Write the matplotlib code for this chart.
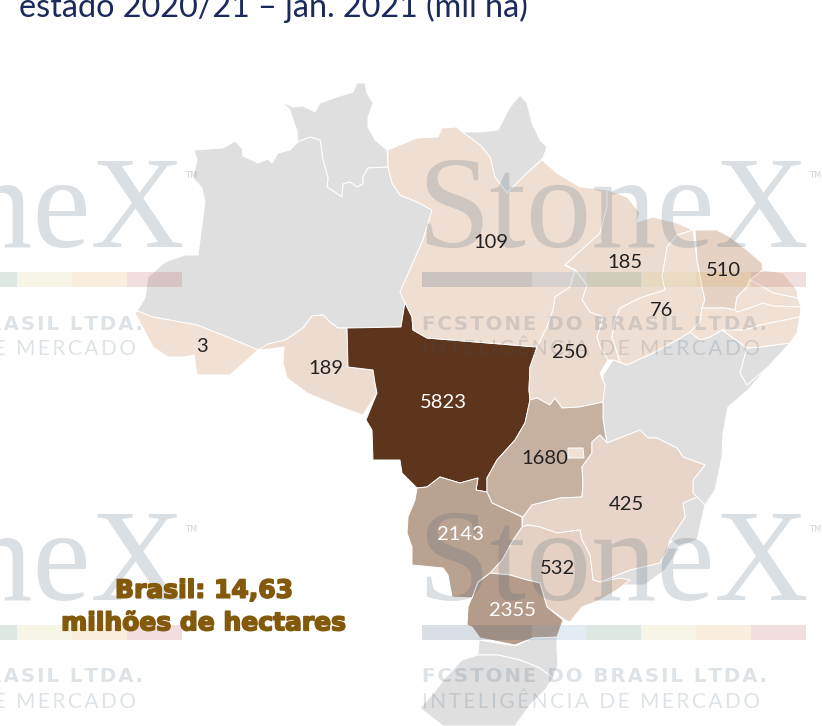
import matplotlib
matplotlib.use('Agg')
import matplotlib.pyplot as plt
import matplotlib.patheffects as pe
from matplotlib.colors import LinearSegmentedColormap, Normalize
import numpy as np

# area per state, nan = grey (no data on the map), 0 = small area with no label
states = ['RR', 'AM', 'AP', 'BA', 'SE', 'ES', 'RJ', 'SC', 'RS', 'AC', 'RO', 'MT', 'PA', 'MA', 'TO', 'PI',
          'CE', 'RN', 'PB', 'PE', 'AL', 'GO', 'DF', 'MG', 'SP', 'PR', 'MS']
values = [np.nan, np.nan, np.nan, np.nan, np.nan, np.nan, np.nan, np.nan, np.nan, 3, 189, 5823, 109, 185, 250, 76,
          510, 0, 0, 0, 0, 1680, 0, 425, 532, 2355, 2143]

# outlines (pixels)
outlines = {
    'RR': [(282,102),(293,107),(303,106),(315,112),(320,103),(337,97),(353,92),(357,83),(365,83),(367,93),(373,103),(368,117),(368,127),(375,140),(387,150),(388,167),(368,168),(363,177),(363,184),(357,187),(350,182),(343,184),(342,197),(327,187),(328,178),(323,160),(320,140),(310,137),(298,142),(297,131),(293,120),(290,110)],
    'AM': [(194,150),(222,148),(225,147),(235,141),(242,148),(243,156),(258,163),(268,159),(272,163),(278,153),(290,150),(298,142),(310,137),(320,140),(323,160),(328,178),(327,187),(342,197),(343,184),(350,182),(357,187),(363,184),(363,177),(368,168),(388,167),(392,183),(400,195),(417,202),(432,210),(423,240),(400,292),(405,302),(401,327),(347,328),(338,328),(330,322),(323,315),(312,316),(303,328),(290,337),(285,340),(275,345),(258,350),(230,338),(197,325),(153,317),(137,311),(145,298),(148,277),(165,262),(185,255),(198,255),(205,202),(202,188),(193,178),(197,160)],
    'AP': [(462,132),(480,132),(498,130),(510,107),(520,95),(527,103),(532,123),(540,140),(547,147),(543,158),(527,173),(507,193),(495,177),(490,157),(480,145)],
    'BA': [(603,375),(613,360),(627,365),(653,353),(677,340),(690,332),(700,340),(710,337),(722,330),(747,348),(740,373),(747,385),(768,367),(748,390),(728,407),(723,433),(722,457),(715,490),(705,505),(697,497),(693,493),(693,480),(705,465),(683,457),(677,448),(657,438),(648,438),(640,430),(607,443),(605,432),(603,418),(603,402)],
    'SE': [(747,348),(740,373),(747,385),(768,367),(790,343),(775,345),(760,347)],
    'ES': [(697,497),(705,505),(697,540),(680,547),(670,540),(685,517),(683,503)],
    'RJ': [(600,582),(630,570),(660,563),(668,548),(680,548),(665,570),(645,585),(625,585),(615,590)],
    'SC': [(479,640),(515,646),(533,638),(557,637),(557,648),(558,665),(553,678),(540,668),(520,660),(498,655),(478,655)],
    'RS': [(420,708),(432,695),(445,678),(462,660),(478,655),(498,655),(520,660),(540,668),(553,678),(545,690),(530,705),(515,726),(443,726)],
    'AC': [(137,311),(153,317),(197,325),(230,338),(258,350),(247,360),(230,375),(197,375),(194,355),(183,357),(168,357),(153,347),(143,328),(135,313)],
    'RO': [(312,316),(323,315),(330,322),(338,328),(347,328),(348,367),(373,370),(375,383),(377,393),(363,415),(343,408),(307,393),(287,378),(283,363),(284,347),(270,349),(258,350),(268,344),(285,340),(290,337),(303,328)],
    'MT': [(347,328),(401,327),(405,302),(412,317),(413,330),(427,338),(537,347),(530,367),(529,390),(530,400),(525,423),(515,440),(497,460),(487,478),(487,492),(476,490),(478,478),(460,483),(440,477),(427,487),(417,488),(402,473),(400,460),(373,460),(372,430),(366,420),(377,393),(375,383),(373,370),(348,367)],
    'PA': [(388,150),(417,138),(438,137),(442,128),(457,127),(460,130),(480,145),(490,157),(495,177),(507,193),(527,173),(542,160),(557,173),(580,187),(607,190),(607,207),(600,233),(565,265),(575,270),(570,287),(555,297),(553,310),(547,327),(537,347),(427,338),(413,330),(412,317),(405,303),(400,292),(423,240),(432,210),(417,202),(400,195),(392,183),(388,167)],
    'MA': [(607,190),(627,197),(640,213),(637,222),(653,217),(677,223),(693,230),(677,235),(667,247),(665,260),(662,277),(665,290),(640,298),(620,308),(615,320),(612,337),(620,362),(613,360),(608,360),(600,347),(597,337),(603,317),(590,312),(582,300),(587,285),(575,270),(565,265),(600,233),(607,207)],
    'TO': [(565,265),(575,270),(587,285),(582,300),(590,312),(603,317),(597,337),(600,347),(608,360),(600,373),(605,385),(603,402),(580,407),(562,408),(555,398),(550,405),(537,398),(530,400),(529,390),(530,367),(537,347),(547,327),(553,310),(555,297),(570,287),(575,270)],
    'PI': [(693,230),(697,260),(702,287),(705,300),(702,308),(700,322),(690,332),(677,340),(653,353),(627,365),(620,362),(612,337),(615,320),(620,308),(640,298),(665,290),(662,277),(665,260),(667,247),(677,235)],
    'CE': [(695,230),(717,230),(730,237),(747,250),(762,263),(763,270),(750,280),(747,287),(737,297),(735,310),(725,308),(702,308),(705,300),(702,287),(697,260)],
    'RN': [(750,280),(763,270),(783,273),(797,290),(798,298),(773,293),(763,287)],
    'PB': [(750,280),(763,287),(773,293),(798,298),(801,307),(773,306),(763,303),(750,308),(737,312),(735,310),(737,297),(747,287)],
    'PE': [(702,308),(725,308),(735,310),(737,312),(750,308),(763,303),(773,306),(801,307),(800,317),(775,322),(760,325),(745,330),(722,330),(710,337),(700,340),(690,332),(700,322)],
    'AL': [(722,330),(745,330),(760,325),(775,322),(800,317),(797,333),(790,343),(775,345),(760,347),(747,348)],
    'GO': [(530,400),(537,398),(550,405),(555,398),(562,408),(580,407),(603,402),(603,418),(605,432),(607,443),(600,435),(592,442),(592,453),(582,467),(583,483),(582,497),(560,498),(532,505),(523,517),(492,503),(487,492),(487,478),(497,460),(515,440),(525,423)],
    'DF': [(568,448),(583,448),(584,458),(568,458)],
    'MG': [(607,443),(640,430),(648,438),(657,438),(677,448),(683,457),(705,465),(693,480),(693,493),(697,497),(683,503),(685,517),(670,540),(667,550),(660,563),(630,570),(600,582),(593,580),(590,555),(582,540),(580,530),(557,533),(540,527),(528,525),(522,527),(523,517),(532,505),(560,498),(582,497),(583,483),(582,467),(592,453),(592,442),(600,435)],
    'SP': [(522,527),(528,525),(540,527),(557,533),(580,530),(582,540),(590,555),(593,580),(600,582),(620,578),(630,580),(617,590),(600,600),(582,607),(570,622),(565,620),(547,607),(540,583),(527,580),(510,575),(490,573),(502,560),(513,540)],
    'PR': [(490,573),(510,575),(527,580),(540,583),(547,607),(563,620),(557,637),(533,638),(515,645),(480,638),(472,627),(467,625),(468,607),(478,582)],
    'MS': [(417,488),(427,487),(440,477),(460,483),(478,478),(476,490),(487,492),(492,503),(522,517),(522,527),(513,540),(502,560),(490,573),(478,582),(472,598),(452,597),(448,575),(443,568),(412,565),(412,547),(407,533),(408,517),(415,500)],
}

label_states = ['AC', 'RO', 'MT', 'PA', 'MA', 'TO', 'PI', 'CE', 'GO', 'MG', 'SP', 'PR', 'MS']
label_x = [202, 326, 443, 491, 625, 570, 662, 723, 545, 626, 558, 512, 460]
label_y = [346, 368, 402, 242, 263, 352, 310, 270, 458, 504, 569, 611, 535]
white_labels = ['MT', 'PR', 'MS']

title = 'estado 2020/21 – jan. 2021 (mil ha)'
total_lines = 'Brasil: 14,63\nmilhões de hectares'

# watermark tile repeats
tile_dx = [0, -624]
tile_dy = [0, 353]
strip_colors = ['#3d5a73', '#3d5a73', '#73a0c3', '#5f8c73', '#d2cd82', '#e1aa55', '#b95f64']

cmap = LinearSegmentedColormap.from_list('soja', ['#f1e1d5', '#5c351c'])
norm = Normalize(0, 5823)

fig = plt.figure(figsize=(8.22, 7.26), dpi=100)
ax = fig.add_axes([0, 0, 1, 1])
ax.set_xlim(0, 822)
ax.set_ylim(726, 0)
ax.axis('off')

for st, v in zip(states, values):
    c = '#dfdfdf' if np.isnan(v) else cmap(norm(v))
    xy = np.array(outlines[st])
    ax.fill(xy[:, 0], xy[:, 1], facecolor=c, edgecolor='white', linewidth=0.7, zorder=2)

for st, x, y in zip(label_states, label_x, label_y):
    v = values[states.index(st)]
    ax.text(x, y, str(v), ha='center', va='center', fontsize=14.5, family='Lato',
            color='white' if st in white_labels else '#222222', zorder=6)

for dy in tile_dy:
    for dx in tile_dx:
        ax.text(422 + dx - 5, 247 + dy, 'StoneX', fontsize=94, family='Liberation Serif', color='#3d5a73',
                alpha=0.19, ha='left', va='baseline', zorder=4, clip_on=True)
        ax.text(812 + dx - 3, 176 + dy, 'TM', fontsize=6, color='#3d5a73', alpha=0.25, ha='left', va='center',
                zorder=4)
        for i, c in enumerate(strip_colors):
            x0 = 422 + dx + i * 54.8
            ax.fill_between([x0, x0 + 54.8], 272 + dy, 287 + dy, color=c, alpha=0.2, linewidth=0, zorder=4)
        ax.text(422 + dx, 324 + dy, '\u200a'.join('FCSTONE DO BRASIL LTDA.'), fontsize=14.2, family='DejaVu Sans',
                weight='bold', color='#3d5a73', alpha=0.17, ha='left', va='center', zorder=4)
        ax.text(422 + dx, 349 + dy, '\u200a\u200a'.join('INTELIGÊNCIA DE MERCADO'), fontsize=15,
                family=['Lato', 'DejaVu Sans'], color='#3d5a73', alpha=0.17, ha='left', va='center', zorder=4)

ax.text(19, 17, title, fontsize=23.3, family='Lato', color='#1b2a5c', ha='left', va='baseline', zorder=7)

ax.text(204, 607, total_lines, fontsize=18, family='DejaVu Sans', weight='bold', color='#835a0b', ha='center',
        va='center', linespacing=1.45, zorder=7,
        path_effects=[pe.withStroke(linewidth=1.2, foreground='#835a0b')])

fig.savefig('out.png', dpi=100)
